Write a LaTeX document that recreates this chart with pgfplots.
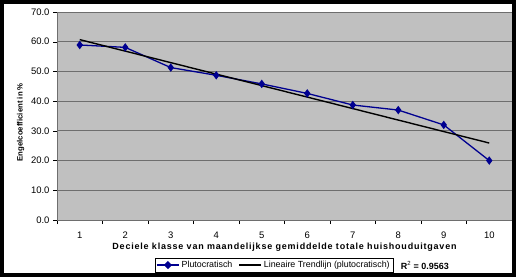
\documentclass[border=0pt]{standalone}
\usepackage{pgfplots}
\pgfplotsset{compat=1.18}
\usepackage{fontspec}
\setmainfont{Liberation Sans}
\definecolor{plotbg}{HTML}{C0C0C0}
\definecolor{gridc}{HTML}{6E6E6E}
\definecolor{navy}{HTML}{000090}
\begin{document}
\begin{tikzpicture}[x=1bp,y=1bp]
\fill[white] (0,0) rectangle (516,277);
\draw[black, line width=4bp] (2,2) rectangle (514,275);
\begin{axis}[
  at={(57bp,57bp)}, anchor=south west,
  scale only axis, width=455bp, height=208bp,
  xmin=0.5, xmax=10.5, ymin=0, ymax=70,
  axis background/.style={fill=plotbg},
  axis line style={gridc},
  axis x line*=bottom, axis y line*=left,
  xtick={1,...,10},
  minor xtick={0.5,1.5,...,10.5},
  major x tick style={draw=none},
  minor x tick style={black, thin},
  minor tick length=4bp,
  ytick={0,10,...,70},
  y tick style={black, thin},
  major tick length=4bp,
  tick align=outside,
  ymajorgrids,
  grid style={gridc, line width=1pt},
  yticklabel={\pgfmathprintnumber[fixed,fixed zerofill,precision=1]{\tick}},
  /pgf/number format/assume math mode=true,
  tick label style={font=\fontsize{9.5}{11}\selectfont},
  xticklabel style={yshift=-4bp},
  xlabel={\fontsize{9}{10}\selectfont\bfseries\addfontfeature{LetterSpace=9}Deciele klasse van maandelijkse gemiddelde totale huishouduitgaven},
  xlabel style={at={(axis description cs:0.5,-0.13)}, anchor=center},
  ylabel={\fontsize{7.8}{9}\selectfont\bfseries Engelcoefficient in \%},
  ylabel style={at={(axis description cs:-0.08,0.47)}, anchor=center},
  legend style={at={(0.215,-0.252)}, anchor=south west, legend columns=2,
    font=\fontsize{8.9}{10}\selectfont, draw=black, inner sep=1.2bp,
    /tikz/every even column/.append style={column sep=4bp}},
  legend image post style={xscale=1.3},
  clip=false,
]
\addplot[navy, line width=1.3pt, mark=diamond*, mark size=3.2pt, mark options={fill=navy}]
  coordinates {(1,58.9) (2,58.1) (3,51.3) (4,48.7) (5,45.8) (6,42.6) (7,38.7) (8,37.0) (9,32.0) (10,20.0)};
\addlegendentry{Plutocratisch}
\addplot[black, line width=1.4pt, no marks]
  coordinates {(1,60.7) (10,25.9)};
\addlegendentry{Lineaire Trendlijn (plutocratisch)}
\node[anchor=west, font=\fontsize{9}{10}\selectfont\bfseries] at (axis description cs:0.748,-0.22) {R$^{\mathrm{2}}$ = 0.9563};
\end{axis}
\end{tikzpicture}
\end{document}
